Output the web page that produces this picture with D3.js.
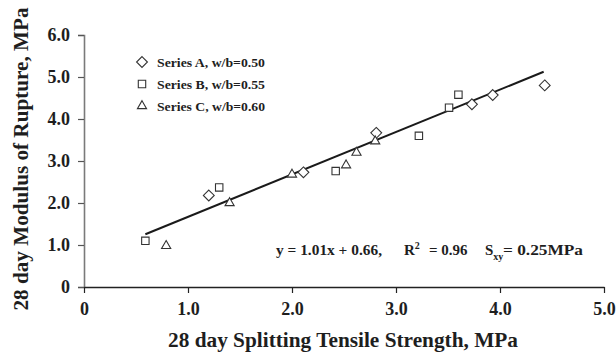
<!DOCTYPE html>
<html>
<head>
<meta charset="utf-8">
<script src="https://cdn.jsdelivr.net/npm/d3@7"></script>
<style>
  html, body { margin: 0; padding: 0; background: #fff; }
  svg { display: block; }
  text { font-family: "Liberation Serif", "Times New Roman", serif; font-weight: bold; fill: #1e1e1e; }
</style>
</head>
<body>
<svg id="chart" width="616" height="354"></svg>
<script>
// Splitting tensile strength (x) vs. modulus of rupture (y), MPa
const seriesNames = ["Series A, w/b=0.50", "Series B, w/b=0.55", "Series C, w/b=0.60"];
const seriesSymbols = ["diamond", "square", "triangle"];

const seriesAx = [1.20, 2.11, 2.81, 3.73, 3.93, 4.43];
const seriesAy = [2.18, 2.73, 3.67, 4.35, 4.57, 4.80];

const seriesBx = [0.59, 1.30, 2.42, 3.22, 3.51, 3.60];
const seriesBy = [1.10, 2.37, 2.76, 3.60, 4.27, 4.58];

const seriesCx = [0.79, 1.40, 2.00, 2.52, 2.62, 2.80];
const seriesCy = [0.98, 2.00, 2.68, 2.90, 3.20, 3.47];

// Least-squares fit as printed on the chart
const fitSlope = 1.01;
const fitIntercept = 0.66;
const fitR2 = 0.96;
const fitSxy = 0.25;
const fitRange = [0.59, 4.42];

const xTicks = [0, 1, 2, 3, 4, 5];
const yTicks = [0, 1, 2, 3, 4, 5, 6];
const tickLabel = v => v === 0 ? "0" : v.toFixed(1);

const svg = d3.select("#chart");
const x = d3.scaleLinear().domain([0, 5]).range([84, 604]);
const y = d3.scaleLinear().domain([0, 6]).range([287, 35]);

// Y axis (grey line, ticks pointing left)
const yAxis = svg.append("g").attr("transform", `translate(${x(0)},0)`)
  .call(d3.axisLeft(y).tickValues(yTicks).tickFormat(tickLabel).tickSize(6).tickPadding(8));
yAxis.select(".domain").attr("stroke", "#7a7a7a").attr("stroke-width", 1.6);
yAxis.selectAll(".tick line").attr("stroke", "#555").attr("stroke-width", 1.2);
yAxis.selectAll(".tick text").style("font-size", "18px").attr("fill", "#1e1e1e");

// X axis (black line, ticks pointing down)
const xAxis = svg.append("g").attr("transform", `translate(0,${y(0)})`)
  .call(d3.axisBottom(x).tickValues(xTicks).tickFormat(tickLabel).tickSize(6).tickSizeOuter(0).tickPadding(9));
xAxis.select(".domain").attr("stroke", "#222").attr("stroke-width", 1.6);
xAxis.selectAll(".tick line").attr("stroke", "#222").attr("stroke-width", 1.2);
xAxis.selectAll(".tick text").style("font-size", "18px").attr("fill", "#1e1e1e");

// Axis titles
svg.append("text")
  .attr("x", 343).attr("y", 347)
  .attr("text-anchor", "middle")
  .attr("textLength", 350).attr("lengthAdjust", "spacingAndGlyphs")
  .style("font-size", "21px")
  .text("28 day Splitting Tensile Strength, MPa");

svg.append("text")
  .attr("transform", "translate(28,159) rotate(-90)")
  .attr("text-anchor", "middle")
  .attr("textLength", 303).attr("lengthAdjust", "spacingAndGlyphs")
  .style("font-size", "21px")
  .text("28 day Modulus of Rupture, MPa");

// Regression line
const line = d3.line().x(d => x(d)).y(d => y(fitSlope * d + fitIntercept));
svg.append("path")
  .attr("d", line(fitRange))
  .attr("fill", "none").attr("stroke", "#1a1a1a").attr("stroke-width", 2);

// Marker shapes
const symbolType = { diamond: d3.symbolDiamond2, square: d3.symbolSquare2, triangle: d3.symbolTriangle2 };
const symbolSize = { diamond: 75, square: 70, triangle: 60 };
function symbolPath(name) {
  return d3.symbol().type(symbolType[name]).size(symbolSize[name])();
}

const series = [
  { xs: seriesAx, ys: seriesAy, sym: seriesSymbols[0] },
  { xs: seriesBx, ys: seriesBy, sym: seriesSymbols[1] },
  { xs: seriesCx, ys: seriesCy, sym: seriesSymbols[2] }
];

series.forEach(s => {
  svg.append("g").selectAll("path")
    .data(s.xs.map((v, i) => [v, s.ys[i]]))
    .join("path")
    .attr("transform", d => `translate(${x(d[0])},${y(d[1])})`)
    .attr("d", symbolPath(s.sym))
    .attr("fill", "#fff")
    .attr("stroke", "#333")
    .attr("stroke-width", 1.1);
});

// Legend
const legend = svg.append("g").attr("transform", "translate(142,62)");
seriesNames.forEach((name, i) => {
  const g = legend.append("g").attr("transform", `translate(0,${i * 22})`);
  g.append("path").attr("d", symbolPath(seriesSymbols[i]))
    .attr("fill", "#fff").attr("stroke", "#333").attr("stroke-width", 1.1);
  g.append("text").attr("x", 15).attr("y", 4.5)
    .style("font-size", "13px")
    .attr("textLength", 108).attr("lengthAdjust", "spacingAndGlyphs")
    .text(name);
});

// Fit statistics
const eq = svg.append("g").style("font-size", "15px");
eq.append("text").attr("x", 276).attr("y", 255)
  .attr("textLength", 106).attr("lengthAdjust", "spacingAndGlyphs")
  .text(`y = ${fitSlope.toFixed(2)}x + ${fitIntercept.toFixed(2)},`);
const r2 = eq.append("text").attr("y", 255);
r2.append("tspan").attr("x", 404).text("R");
r2.append("tspan").attr("dy", -6).style("font-size", "10px").text("2");
r2.append("tspan").attr("x", 429).attr("dy", 6).text(`= ${fitR2.toFixed(2)}`);
const sxy = eq.append("text").attr("y", 255);
sxy.append("tspan").attr("x", 485).text("S");
sxy.append("tspan").attr("dy", 5).style("font-size", "10px").text("xy");
sxy.append("tspan").attr("x", 503).attr("dy", -5)
  .attr("textLength", 80).attr("lengthAdjust", "spacingAndGlyphs")
  .text(`= ${fitSxy.toFixed(2)}MPa`);
</script>
</body>
</html>
